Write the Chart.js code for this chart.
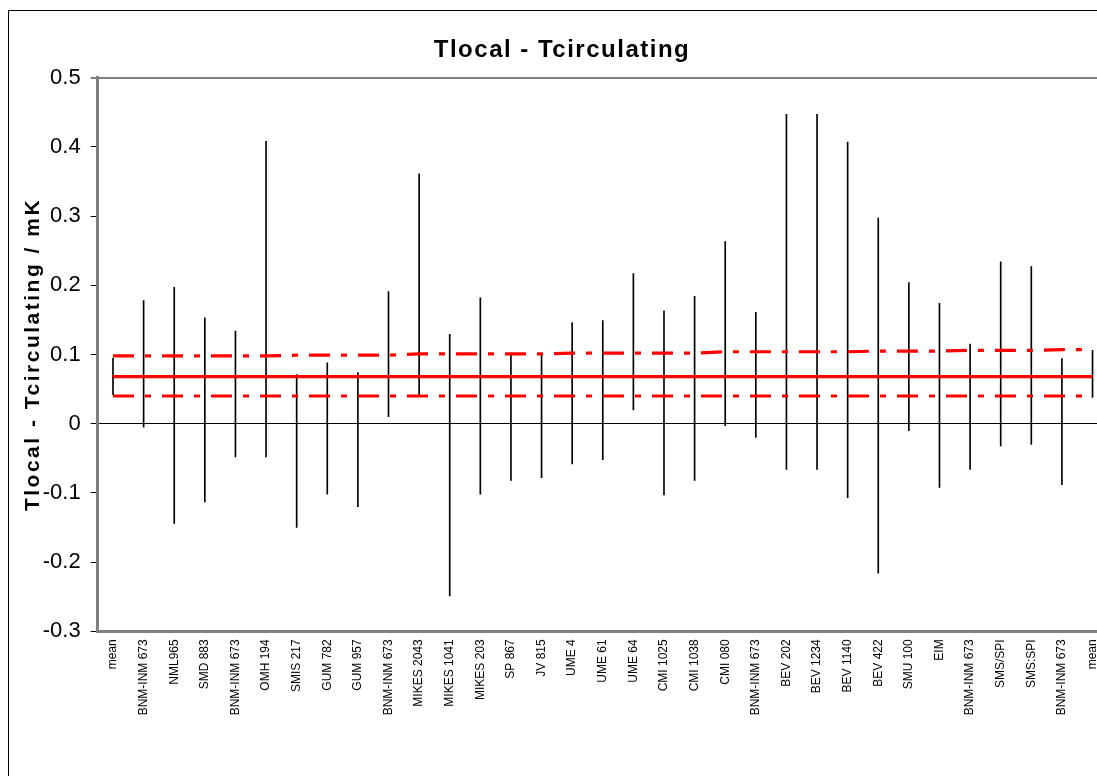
<!DOCTYPE html>
<html>
<head>
<meta charset="utf-8">
<script src="https://cdn.jsdelivr.net/npm/chart.js@4/dist/chart.umd.min.js"></script>
<style>
  html, body { margin: 0; padding: 0; background: #fff; overflow: hidden; width: 1097px; height: 776px; }
  #frame { position: absolute; left: 8px; top: 10px; width: 1150px; height: 800px; border: 1px solid #000; background: #fff; }
  #c { position: absolute; left: 0; top: 0; }
</style>
</head>
<body>
<div id="frame"><canvas id="c" width="1106" height="790"></canvas></div>
<script>
// ---- data ----
const categories = ['mean','BNM-INM 673','NML965','SMD 883','BNM-INM 673','OMH 194','SMIS 217','GUM 782','GUM 957','BNM-INM 673','MIKES 2043','MIKES 1041','MIKES 203','SP 867','JV 815','UME 4','UME 61','UME 64','CMI 1025','CMI 1038','CMI 080','BNM-INM 673','BEV 202','BEV 1234','BEV 1140','BEV 422','SMU 100','EIM','BNM-INM 673','SMS/SPI','SMS:SPI','BNM-INM 673','mean'];
const lowValues  = [0.042,-0.005,-0.144,-0.113,-0.048,-0.048,-0.150,-0.102,-0.120,0.010,0.042,-0.249,-0.102,-0.082,-0.078,-0.058,-0.052,0.020,-0.103,-0.082,-0.003,-0.020,-0.066,-0.066,-0.107,-0.216,-0.010,-0.092,-0.066,-0.032,-0.030,-0.088,0.038];
const highValues = [0.095,0.178,0.197,0.153,0.134,0.408,0.071,0.088,0.074,0.191,0.361,0.129,0.182,0.099,0.101,0.146,0.149,0.217,0.163,0.184,0.263,0.161,0.447,0.447,0.407,0.297,0.204,0.174,0.115,0.234,0.227,0.094,0.106];
const meanLine  = [0.068,0.068,0.068,0.068,0.068,0.068,0.068,0.068,0.068,0.068,0.068,0.068,0.068,0.068,0.068,0.068,0.068,0.068,0.068,0.068,0.068,0.068,0.068,0.068,0.068,0.068,0.068,0.068,0.068,0.068,0.068,0.068,0.068];
const upperLine = [0.098,0.098,0.098,0.098,0.098,0.098,0.099,0.099,0.099,0.099,0.101,0.101,0.101,0.101,0.101,0.102,0.102,0.102,0.102,0.102,0.104,0.104,0.104,0.104,0.104,0.105,0.105,0.105,0.106,0.106,0.106,0.107,0.107];
const lowerLine = [0.040,0.040,0.040,0.040,0.040,0.040,0.040,0.040,0.040,0.040,0.040,0.040,0.040,0.040,0.040,0.040,0.040,0.040,0.040,0.040,0.040,0.040,0.040,0.040,0.040,0.040,0.040,0.040,0.040,0.040,0.040,0.040,0.040];
const yMin = -0.3, yMax = 0.5, yStep = 0.1;
const chartTitle = 'Tlocal - Tcirculating';
const yTitle = 'Tlocal - Tcirculating / mK';

// ---- chart ----
const FONT = "'Liberation Sans', Arial, sans-serif";
Chart.defaults.color = '#000';
Chart.defaults.font.family = FONT;

const ranges = lowValues.map((l, i) => [l, highValues[i]]);
const dashPattern = [21, 11, 6, 11];

const titlesPlugin = {
  id: 'titles',
  afterDraw(chart) {
    const ctx = chart.ctx;
    const a = chart.chartArea;
    ctx.save();
    ctx.fillStyle = '#000';
    ctx.textBaseline = 'middle';
    ctx.textAlign = 'center';
    // main title
    ctx.font = 'bold 24px ' + FONT;
    ctx.letterSpacing = '1.5px';
    ctx.fillText(chartTitle, 553, 39);
    // y axis title
    ctx.font = 'bold 21px ' + FONT;
    ctx.letterSpacing = '2.5px';
    ctx.translate(24, (a.top + a.bottom) / 2);
    ctx.rotate(-Math.PI / 2);
    ctx.fillText(yTitle, 0, 0);
    ctx.restore();
  }
};

new Chart(document.getElementById('c'), {
  data: {
    labels: categories,
    datasets: [
      { type: 'line', data: meanLine, borderColor: '#ff0000', borderWidth: 3.2, pointRadius: 0, fill: false, order: 0 },
      { type: 'line', data: upperLine, borderColor: '#ff0000', borderWidth: 3.2, borderDash: dashPattern, pointRadius: 0, fill: false, order: 0 },
      { type: 'line', data: lowerLine, borderColor: '#ff0000', borderWidth: 3.2, borderDash: dashPattern, pointRadius: 0, fill: false, order: 0 },
      { type: 'bar', data: ranges, backgroundColor: '#000', borderWidth: 0, barThickness: 1, order: 1 }
    ]
  },
  options: {
    responsive: false,
    animation: false,
    events: [],
    layout: { padding: { left: 0, right: 4.4, top: 66.7, bottom: 0 } },
    plugins: { legend: { display: false }, tooltip: { enabled: false }, title: { display: false } },
    scales: {
      x: {
        type: 'category',
        offset: true,
        grid: { display: false, drawTicks: false },
        border: { display: true, color: '#808080', width: 3 },
        ticks: { autoSkip: false, maxRotation: 90, minRotation: 90, padding: 8, font: { size: 12 }, color: '#000' },
        afterFit(scale) { scale.height = 169.7; }
      },
      y: {
        min: yMin, max: yMax,
        grid: {
          drawTicks: true,
          tickLength: 7,
          color: c => (Math.abs(c.tick.value) < 1e-9 ? '#000' : (Math.abs(c.tick.value - yMax) < 1e-9 ? '#808080' : 'rgba(0,0,0,0)')),
          lineWidth: c => (Math.abs(c.tick.value - yMax) < 1e-9 ? 2 : 1),
          tickColor: '#000',
          tickWidth: 1
        },
        border: { display: true, color: '#808080', width: 3 },
        ticks: { stepSize: yStep, padding: 10, font: { size: 22 }, color: '#000' },
        afterFit(scale) { scale.width = 88.7; }
      }
    }
  },
  plugins: [titlesPlugin]
});
</script>
</body>
</html>
